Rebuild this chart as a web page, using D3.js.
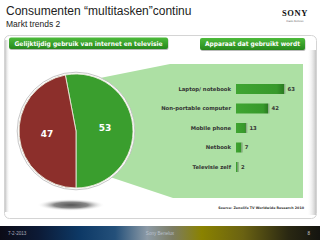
<!DOCTYPE html>
<html><head><meta charset="utf-8">
<script src="https://cdn.jsdelivr.net/npm/d3@7"></script>
<style>html,body{margin:0;padding:0;background:#fff;}svg{display:block;}</style>
</head><body>
<svg id="c" width="320" height="240"></svg>
<script>
const title = "Consumenten \u201cmultitasken\u201dcontinu";
const subtitle = "Markt trends 2";
const pieLabels = ["Ja", "Nee"];
const pieValues = [53, 47];
const barCategories = ["Laptop/ notebook", "Non-portable computer", "Mobile phone", "Netbook", "Televisie zelf"];
const barValues = [63, 42, 13, 7, 2];
const header1 = "Gelijktijdig gebruik van internet en televisie";
const header2 = "Apparaat dat gebruikt wordt";
const source = "Source: Zenolife TV Worldwide Research 2010";
const footer = ["7-2-2013", "Sony Benelux", "8"];

const svg = d3.select("#c");
const defs = svg.append("defs");

// gradients
const fg = defs.append("linearGradient").attr("id","foot").attr("x1","0").attr("x2","1");
[[0,"#0b0b16"],[0.12,"#0c1a36"],[0.25,"#0d3966"],[0.36,"#24507a"],[0.46,"#8c9aa6"],[0.54,"#7c7c62"],[0.63,"#8a8200"],[0.76,"#6a6212"],[0.9,"#2a2812"],[1,"#141410"]]
  .forEach(([o,c])=>fg.append("stop").attr("offset",o).attr("stop-color",c));
const bg = defs.append("linearGradient").attr("id","btn").attr("x1","0").attr("x2","0").attr("y1","0").attr("y2","1");
bg.append("stop").attr("offset",0).attr("stop-color","#4dbb3b");
bg.append("stop").attr("offset",1).attr("stop-color","#26881c");
const ls = defs.append("linearGradient").attr("id","lsh").attr("x1","0").attr("x2","1");
ls.append("stop").attr("offset",0).attr("stop-color","#c4c4c4");
ls.append("stop").attr("offset",1).attr("stop-color","#ffffff").attr("stop-opacity",0);
const rs = defs.append("linearGradient").attr("id","rsh").attr("x1","0").attr("x2","1");
rs.append("stop").attr("offset",0).attr("stop-color","#ffffff").attr("stop-opacity",0);
rs.append("stop").attr("offset",1).attr("stop-color","#c4c4c4");
const barG = defs.append("linearGradient").attr("id","barg").attr("x1","0").attr("x2","1");
barG.append("stop").attr("offset",0).attr("stop-color","#3fa532");
barG.append("stop").attr("offset",0.85).attr("stop-color","#37992b");
barG.append("stop").attr("offset",1).attr("stop-color","#2a7a20");
const sh = defs.append("radialGradient").attr("id","psh");
sh.append("stop").attr("offset",0).attr("stop-color","#555");
sh.append("stop").attr("offset",0.5).attr("stop-color","#888");
sh.append("stop").attr("offset",1).attr("stop-color","#fff").attr("stop-opacity",0);

// title
svg.append("text").attr("x",6).attr("y",15).attr("font-family","Liberation Sans, Arial, sans-serif")
  .attr("font-size",12).attr("fill","#222").text(title);
svg.append("text").attr("x",6).attr("y",27).attr("font-family","Liberation Sans, Arial, sans-serif")
  .attr("font-size",8.5).attr("fill","#222").text(subtitle);
// logo
svg.append("text").attr("x",295).attr("y",16).attr("text-anchor","middle").attr("font-family","Liberation Serif, serif")
  .attr("font-weight","bold").attr("font-size",8.5).attr("letter-spacing",0.6).attr("fill","#111").text("SONY");
svg.append("text").attr("x",295).attr("y",21.5).attr("text-anchor","middle").attr("font-family","DejaVu Sans, sans-serif")
  .attr("font-size",2.6).attr("fill","#555").text("make.believe");

// panel
svg.append("rect").attr("x",4.5).attr("y",35.5).attr("width",312).attr("height",183).attr("rx",5)
  .attr("fill","#fff").attr("stroke","#d4d4d4");
svg.append("rect").attr("x",5).attr("y",40).attr("width",5).attr("height",172).attr("fill","url(#lsh)");
svg.append("rect").attr("x",307).attr("y",50).attr("width",9).attr("height",165).attr("fill","url(#rsh)");

// buttons
function button(x,y,w,h,txt,tw){
  svg.append("rect").attr("x",x+0.5).attr("y",y+1).attr("width",w).attr("height",h).attr("rx",2).attr("fill","#777").attr("opacity",0.5);
  svg.append("rect").attr("x",x).attr("y",y).attr("width",w).attr("height",h).attr("rx",2).attr("fill","url(#btn)");
  svg.append("text").attr("x",x+w/2).attr("y",y+h/2+2.3).attr("text-anchor","middle")
    .attr("font-family","DejaVu Sans, Verdana, sans-serif").attr("font-weight","bold").attr("font-size",6.4)
    .attr("fill","#fff").attr("textLength",tw).attr("lengthAdjust","spacingAndGlyphs").text(txt);
}
button(9,37.5,159,11.5,header1,148);
button(200,38,105,12,header2,95);

// light green callout
svg.append("path").attr("d","M95,79 L170,64 L303,64 L303,198 L173,198 L95,172 Z").attr("fill","#ade0a4");

// pie shadow
svg.append("ellipse").attr("cx",71).attr("cy",205).attr("rx",34).attr("ry",6).attr("fill","url(#psh)");

// pie
const cx=76, cy=131, R=57;
const start = Math.PI - 2*Math.PI*pieValues[0]/d3.sum(pieValues);
const pie = d3.pie().sort(null).startAngle(start).endAngle(start+2*Math.PI);
const arcs = pie(pieValues);
const arc = d3.arc().innerRadius(0).outerRadius(R);
const lab = d3.arc().innerRadius(R*0.51).outerRadius(R*0.51);
const pieColors = ["#3a9e2e","#8c2f2b"];
const pg = svg.append("g").attr("transform",`translate(${cx},${cy})`);
pg.append("circle").attr("r",R+1.8).attr("fill","#fff").attr("stroke","#b8b8b8").attr("stroke-width",0.8);
pg.selectAll("path").data(arcs).enter().append("path").attr("d",arc)
  .attr("fill",(d,i)=>pieColors[i]).attr("stroke","#e8e8d8").attr("stroke-width",0.9);
pg.selectAll("text").data(arcs).enter().append("text")
  .attr("transform",d=>`translate(${lab.centroid(d)})`).attr("text-anchor","middle").attr("dy","0.35em")
  .attr("font-family","DejaVu Sans, Verdana, sans-serif").attr("font-weight","bold").attr("font-size",9)
  .attr("fill","#fff").text(d=>d.data);

// bars
const x = d3.scaleLinear().domain([0,100]).range([236,236+76.2]);
const y = d3.scalePoint().domain(barCategories).range([89,167]);
const bh = 10;
const bgp = svg.append("g");
barCategories.forEach((c,i)=>{
  const v = barValues[i];
  bgp.append("rect").attr("x",x(0)).attr("y",y(c)-bh/2).attr("width",x(v)-x(0)).attr("height",bh).attr("fill","url(#barg)");
  bgp.append("rect").attr("x",x(v)).attr("y",y(c)-bh/2).attr("width",1.4).attr("height",bh).attr("fill","#7f9a7a").attr("opacity",0.7);
  bgp.append("text").attr("x",231).attr("y",y(c)).attr("dy","0.35em").attr("text-anchor","end")
    .attr("font-family","DejaVu Sans, Verdana, sans-serif").attr("font-weight","bold").attr("font-size",5.3)
    .attr("fill","#333").text(c);
  bgp.append("text").attr("x",x(v)+3.5).attr("y",y(c)).attr("dy","0.35em")
    .attr("font-family","DejaVu Sans, Verdana, sans-serif").attr("font-weight","bold").attr("font-size",5.3)
    .attr("fill","#333").text(v);
});

// source
svg.append("text").attr("x",304).attr("y",209).attr("text-anchor","end")
  .attr("font-family","DejaVu Sans, sans-serif").attr("font-weight","bold").attr("font-size",3.3)
  .attr("fill","#333").text(source);

// footer
svg.append("rect").attr("x",0).attr("y",226).attr("width",320).attr("height",14).attr("fill","url(#foot)");
const ft = {"font-family":"Liberation Sans, Arial, sans-serif","font-size":4.6};
svg.append("text").attr("x",8).attr("y",234.5).attr("font-family",ft["font-family"]).attr("font-size",ft["font-size"]).attr("fill","#a8a8b8").text(footer[0]);
svg.append("text").attr("x",160).attr("y",234.5).attr("text-anchor","middle").attr("font-family",ft["font-family"]).attr("font-size",ft["font-size"]).attr("fill","#b8c0cc").text(footer[1]);
svg.append("text").attr("x",310).attr("y",234.5).attr("text-anchor","end").attr("font-family",ft["font-family"]).attr("font-size",ft["font-size"]).attr("fill","#c8c8c8").text(footer[2]);
</script>
</body></html>
